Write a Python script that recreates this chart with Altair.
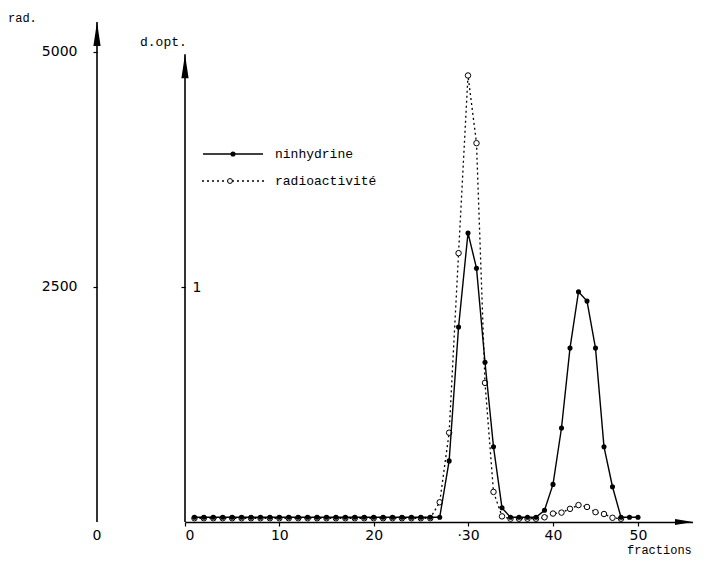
import altair as alt
import pandas as pd

# ---------------- data ----------------
fractions_n = list(range(1, 51))
ninhydrine = [0.02] * 27 + [
    0.26, 0.83, 1.23, 1.08, 0.68, 0.32, 0.06, 0.02, 0.02, 0.02, 0.02,
    0.05, 0.16, 0.40, 0.74, 0.98, 0.94, 0.74, 0.32, 0.15, 0.02, 0.02, 0.02,
]
fractions_r = list(range(1, 49))
radioactivite = [40] * 26 + [
    210, 950, 2860, 4750, 4030, 1480, 320, 60, 35, 35, 35, 35,
    50, 90, 100, 140, 180, 160, 105, 85, 45, 35,
]

x_ticks = [0, 10, 20, 30, 40, 50]
rad_ticks = [2500, 5000]
dopt_ticks = [1]

df_n = pd.DataFrame({"fraction": fractions_n, "dopt": ninhydrine})
df_r = pd.DataFrame({"fraction": fractions_r, "rad": radioactivite})
one = pd.DataFrame({"k": [0]})

# ---------------- geometry ----------------
W, H = 508, 500
X_END = 56.4
DOPT_TOP = 2.1277
RAD_TOP = 5319
MONO = "Liberation Mono"
NUM = "DejaVu Sans"

UP = "M0,0L0.3,2L-0.3,2Z"
RIGHT = "M0,0L-2,-0.33L-2,0.33Z"

xscale = alt.Scale(domain=[0, 30, 50, X_END], range=[0, 283, 453, W], nice=False, zero=False)
xaxis = alt.Axis(
    values=x_ticks, title=None, grid=False, tickSize=4, tickColor="black", tickWidth=1.2,
    domainColor="black", domainWidth=1.5, labelPadding=2, labelFont=NUM,
    labelFontSize=14, labelColor="black",
    labelExpr="datum.value == 30 ? '·30' : datum.label",
)
yd = alt.Scale(domain=[0, DOPT_TOP], nice=False, zero=True)
yr = alt.Scale(domain=[0, RAD_TOP], nice=False, zero=True)

dopt_axis = alt.Axis(
    orient="left", values=dopt_ticks, format="d", title=None, grid=False, domain=False,
    tickSize=4, tickColor="black", tickWidth=1.2, labelAlign="left", labelPadding=-11,
    labelFont=NUM, labelFontSize=14, labelColor="black",
)
rad_axis = alt.Axis(
    orient="left", offset=88, values=rad_ticks, format="d", title=None, grid=False, domain=False,
    tickSize=4, tickColor="black", tickWidth=1.2, labelPadding=16,
    labelFont=NUM, labelFontSize=14, labelColor="black",
)

X = alt.X("fraction:Q", scale=xscale, axis=xaxis)

# ---------------- radioactivity (rad scale) ----------------
r_line = alt.Chart(df_r).mark_line(color="black", strokeWidth=1.3, strokeDash=[2, 3]).encode(
    x=X, y=alt.Y("rad:Q", scale=yr, axis=rad_axis)
)
r_pts = alt.Chart(df_r).mark_point(
    shape="circle", filled=True, fill="white", stroke="black", strokeWidth=1, size=30, opacity=1
).encode(x=X, y=alt.Y("rad:Q", scale=yr, axis=rad_axis))

rad_rule = alt.Chart(one).mark_rule(color="black", strokeWidth=1.6).encode(
    x=alt.value(-88), y=alt.datum(0, scale=yr), y2=alt.datum(RAD_TOP)
)
rad_arrow = alt.Chart(one).mark_point(shape=UP, filled=True, color="black", size=576, opacity=1).encode(
    x=alt.value(-88), y=alt.datum(RAD_TOP, scale=yr)
)
rad_zero = alt.Chart(one).mark_text(text="0", font=NUM, fontSize=14, dy=14, baseline="middle").encode(
    x=alt.value(-88), y=alt.datum(0, scale=yr)
)
rad_group = alt.layer(r_line, r_pts, rad_rule, rad_arrow, rad_zero)

# ---------------- ninhydrine (d.opt scale) ----------------
n_line = alt.Chart(df_n).mark_line(color="black", strokeWidth=1.4).encode(
    x=X, y=alt.Y("dopt:Q", scale=yd, axis=dopt_axis)
)
n_pts = alt.Chart(df_n).mark_point(filled=True, color="black", size=26, opacity=1).encode(
    x=X, y=alt.Y("dopt:Q", scale=yd, axis=dopt_axis)
)
dopt_rule = alt.Chart(one).mark_rule(color="black", strokeWidth=1.6).encode(
    x=alt.datum(0, scale=xscale), y=alt.datum(0, scale=yd), y2=alt.datum(1.99)
)
dopt_arrow = alt.Chart(one).mark_point(shape=UP, filled=True, color="black", size=576, opacity=1).encode(
    x=alt.datum(0, scale=xscale), y=alt.datum(1.99, scale=yd)
)
x_arrow = alt.Chart(one).mark_point(shape=RIGHT, filled=True, color="black", size=324, opacity=1).encode(
    x=alt.datum(X_END, scale=xscale), y=alt.datum(0, scale=yd)
)

# legend
leg_n_line = alt.Chart(one).mark_rule(color="black", strokeWidth=1.4).encode(
    x=alt.value(18), x2=alt.value(78), y=alt.value(132)
)
leg_n_pt = alt.Chart(one).mark_point(filled=True, color="black", size=26, opacity=1).encode(
    x=alt.value(48), y=alt.value(132)
)
leg_n_txt = alt.Chart(one).mark_text(text="ninhydrine", font=MONO, fontSize=13, align="left", baseline="middle").encode(
    x=alt.value(90), y=alt.value(132)
)
leg_r_line = alt.Chart(one).mark_rule(color="black", strokeWidth=1.3, strokeDash=[2, 3]).encode(
    x=alt.value(17), x2=alt.value(82), y=alt.value(159)
)
leg_r_pt = alt.Chart(one).mark_point(
    shape="circle", filled=True, fill="white", stroke="black", strokeWidth=1, size=24, opacity=1
).encode(x=alt.value(45), y=alt.value(159))
leg_r_txt = alt.Chart(one).mark_text(text="radioactivité", font=MONO, fontSize=13, align="left", baseline="middle").encode(
    x=alt.value(90), y=alt.value(159)
)

# titles
t_rad = alt.Chart(one).mark_text(text="rad.", font=MONO, fontSize=12, align="left", baseline="middle").encode(
    x=alt.value(-177), y=alt.value(-4)
)
t_dopt = alt.Chart(one).mark_text(text="d.opt.", font=MONO, fontSize=13, align="left", baseline="middle").encode(
    x=alt.value(-45), y=alt.value(20)
)
t_frac = alt.Chart(one).mark_text(text="fractions", font=MONO, fontSize=12, align="left", baseline="top").encode(
    x=alt.value(442), y=alt.value(523)
)

n_group = alt.layer(
    dopt_rule, dopt_arrow, x_arrow, n_line, n_pts,
    leg_n_line, leg_n_pt, leg_n_txt, leg_r_line, leg_r_pt, leg_r_txt,
    t_rad, t_dopt, t_frac,
)

chart = (
    alt.layer(rad_group, n_group)
    .resolve_scale(y="independent")
    .properties(
        width=W, height=H,
        padding={"left": 177, "top": 14, "right": 0, "bottom": 36},
        autosize=alt.AutoSizeParams(type="none"),
        background="white",
    )
    .configure_view(stroke=None)
)

chart.save("out.html", embed_options={"renderer": "svg", "actions": False})
